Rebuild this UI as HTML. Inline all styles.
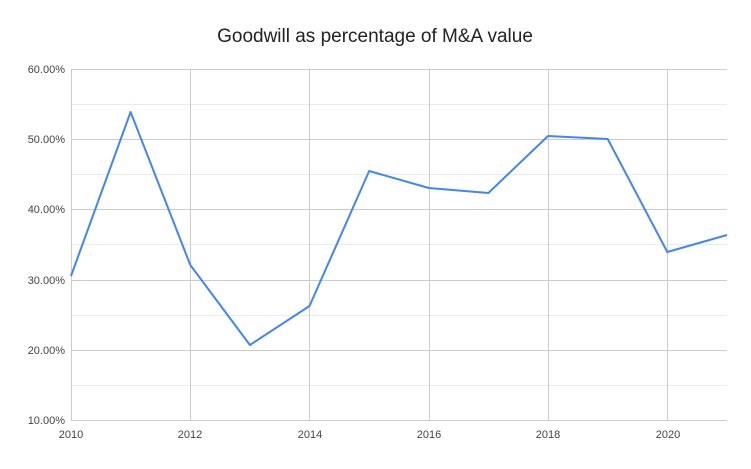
<!DOCTYPE html>
<html><head><meta charset="utf-8"><style>
html,body{margin:0;padding:0;background:#fff;}
svg text{font-family:"Liberation Sans",Arial,sans-serif;}
</style></head><body>
<svg width="751" height="464" xmlns="http://www.w3.org/2000/svg">
<rect width="751" height="464" fill="#fff"/>
<text x="375" y="42" text-anchor="middle" font-size="19" fill="#222">Goodwill as percentage of M&amp;A value</text>
<g stroke="#ebebeb" stroke-width="1">
<line x1="71" x2="727" y1="104.5" y2="104.5"/>
<line x1="71" x2="727" y1="174.5" y2="174.5"/>
<line x1="71" x2="727" y1="244.5" y2="244.5"/>
<line x1="71" x2="727" y1="315.5" y2="315.5"/>
<line x1="71" x2="727" y1="385.5" y2="385.5"/>
</g>
<g stroke="#cccccc" stroke-width="1">
<line x1="71" x2="727" y1="69.5" y2="69.5"/>
<line x1="71" x2="727" y1="139.5" y2="139.5"/>
<line x1="71" x2="727" y1="209.5" y2="209.5"/>
<line x1="71" x2="727" y1="280.5" y2="280.5"/>
<line x1="71" x2="727" y1="350.5" y2="350.5"/>
<line x1="71" x2="727" y1="420.5" y2="420.5"/>
<line x1="71.5" x2="71.5" y1="69" y2="420"/>
<line x1="190.5" x2="190.5" y1="69" y2="420"/>
<line x1="309.5" x2="309.5" y1="69" y2="420"/>
<line x1="429.5" x2="429.5" y1="69" y2="420"/>
<line x1="548.5" x2="548.5" y1="69" y2="420"/>
<line x1="667.5" x2="667.5" y1="69" y2="420"/>
</g>
<g font-size="11" fill="#444" text-anchor="end">
<text x="65" y="73">60.00%</text>
<text x="65" y="143">50.00%</text>
<text x="65" y="213">40.00%</text>
<text x="65" y="284">30.00%</text>
<text x="65" y="354">20.00%</text>
<text x="65" y="424">10.00%</text>
</g>
<g font-size="11" fill="#444" text-anchor="middle">
<text x="71" y="438">2010</text>
<text x="190" y="438">2012</text>
<text x="310" y="438">2014</text>
<text x="429" y="438">2016</text>
<text x="548" y="438">2018</text>
<text x="668" y="438">2020</text>
</g>
<polyline fill="none" stroke="#4285f4" stroke-width="2" stroke-linejoin="round"
points="71,276 130.6,112 190.3,265 249.9,345 309.5,306 369.2,171 428.8,188 488.4,193 548,136 607.7,139 667.3,252 727,235"/>
</svg>
</body></html>
